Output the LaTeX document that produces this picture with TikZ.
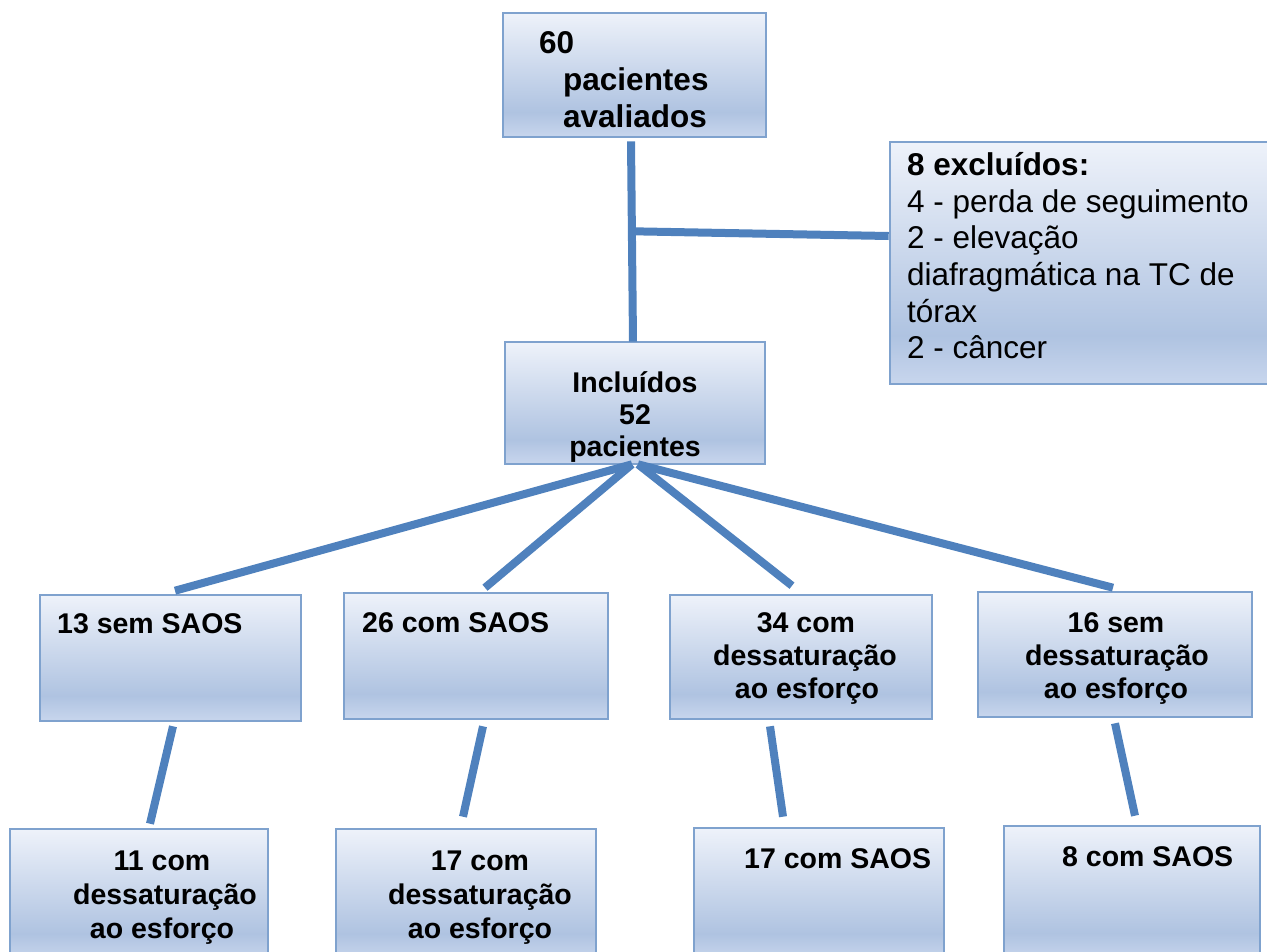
\documentclass[tikz,border=0pt]{standalone}
\usepackage{fontspec}
\setmainfont{Liberation Sans}
\usetikzlibrary{calc}
\definecolor{sb}{HTML}{C8D6ED}
\definecolor{sm}{HTML}{AFC3E1}
\definecolor{st}{HTML}{EEF2FA}
\definecolor{bord}{HTML}{7FA2CE}
\definecolor{conn}{HTML}{4F81BD}
\pgfdeclareverticalshading{boxshade}{100bp}{color(0bp)=(sb); color(25bp)=(sb); color(35bp)=(sm); color(75bp)=(st); color(100bp)=(st)}
\tikzset{
  box/.style={draw=bord, line width=2.6pt, shading=boxshade, rectangle, inner sep=0pt},
  conline/.style={draw=conn, line width=8pt},
  bt/.style={inner sep=0pt, font=\fontsize{28.5}{33}\selectfont\bfseries},
  btbig/.style={inner sep=0pt, font=\fontsize{31.5}{36}\selectfont\bfseries},
  nt/.style={inner sep=0pt, font=\fontsize{31.5}{36}\selectfont},
}
\begin{document}
\begin{tikzpicture}[x=1pt,y=-1pt]
\useasboundingbox (0,0) rectangle (1267,951);
% boxes
\node[box, minimum width=263pt, minimum height=124pt] (top) at (634.5,75) {};
\node[box, minimum width=382pt, minimum height=242pt] (exc) at (1081,263) {};
\node[box, minimum width=260pt, minimum height=122pt] (inc) at (635,403) {};
\node[box, minimum width=261pt, minimum height=126pt] (b1) at (170.5,658) {};
\node[box, minimum width=264pt, minimum height=126pt] (b2) at (476,656) {};
\node[box, minimum width=262pt, minimum height=124pt] (b3) at (801,657) {};
\node[box, minimum width=274pt, minimum height=125pt] (b4) at (1115,654.5) {};
\node[box, minimum width=258pt, minimum height=131pt] (c1) at (139,894.5) {};
\node[box, minimum width=260pt, minimum height=131pt] (c2) at (466,894.5) {};
\node[box, minimum width=250pt, minimum height=132pt] (c3) at (819,894) {};
\node[box, minimum width=256pt, minimum height=134pt] (c4) at (1132,893) {};
% texts
\node[btbig, anchor=base west] (t1) at (539,53) {60};
\node[btbig, anchor=base west] (t2) at (563,90) {pacientes};
\node[btbig, anchor=base west] (t3) at (563,127) {avaliados};
\node[btbig, anchor=base west] (e1) at (907,175) {8 excluídos:};
\node[nt, anchor=base west] (e2) at (907,212) {4 - perda de seguimento};
\node[nt, anchor=base west] (e3) at (907,248) {2 - elevação};
\node[nt, anchor=base west] (e4) at (907,285) {diafragmática na TC de};
\node[nt, anchor=base west] (e5) at (907,322) {tórax};
\node[nt, anchor=base west] (e6) at (907,358) {2 - câncer};
\node[bt, anchor=base] (i1) at (635,392) {Incluídos};
\node[bt, anchor=base] (i2) at (635,424) {52};
\node[bt, anchor=base] (i3) at (635,456) {pacientes};
\node[bt, anchor=base west] (s1) at (57,633) {13 sem SAOS};
\node[bt, anchor=base west] (s2) at (362,632) {26 com SAOS};
\node[bt, anchor=base] (s3a) at (806,632) {34 com};
\node[bt, anchor=base] (s3b) at (805,665) {dessaturação};
\node[bt, anchor=base] (s3c) at (807,698) {ao esforço};
\node[bt, anchor=base] (s4a) at (1116,632) {16 sem};
\node[bt, anchor=base] (s4b) at (1117,665) {dessaturação};
\node[bt, anchor=base] (s4c) at (1116,698) {ao esforço};
\node[bt, anchor=base] (r1a) at (162,870) {11 com};
\node[bt, anchor=base] (r1b) at (165,904) {dessaturação};
\node[bt, anchor=base] (r1c) at (162,938) {ao esforço};
\node[bt, anchor=base] (r2a) at (480,870) {17 com};
\node[bt, anchor=base] (r2b) at (480,904) {dessaturação};
\node[bt, anchor=base] (r2c) at (480,938) {ao esforço};
\node[bt, anchor=base west] (r3) at (744,868) {17 com SAOS};
\node[bt, anchor=base west] (r4) at (1062,866) {8 com SAOS};
% connectors
\coordinate (jn) at ($(top.south)+(-1.5,93)$);
\draw[conline] ($(top.south)+(-3.5,3)$) -- ($(inc.north)+(-2,1)$);
\draw[conline] (jn) -- ($(exc.west)+(0,-27)$);
\draw[conline] ($(inc.south)+(-3,-1)$) -- ($(b1.north)+(4.5,-3)$);
\draw[conline] ($(inc.south)+(-3,-1)$) -- ($(b2.north)+(9,-4)$);
\draw[conline] ($(inc.south)+(3,-1)$) -- ($(b3.north)+(-9,-8)$);
\draw[conline] ($(inc.south)+(3,-1)$) -- ($(b4.north)+(-2,-3)$);
\draw[conline] ($(b1.south)+(2.5,4)$) -- ($(c1.north)+(11,-4)$);
\draw[conline] ($(b2.south)+(7,6)$) -- ($(c2.north)+(-3,-11)$);
\draw[conline] ($(b3.south)+(-31,6)$) -- ($(c3.north)+(-36,-10)$);
\draw[conline] ($(b4.south)+(0,5)$) -- ($(c4.north)+(3,-9)$);
\end{tikzpicture}
\end{document}
